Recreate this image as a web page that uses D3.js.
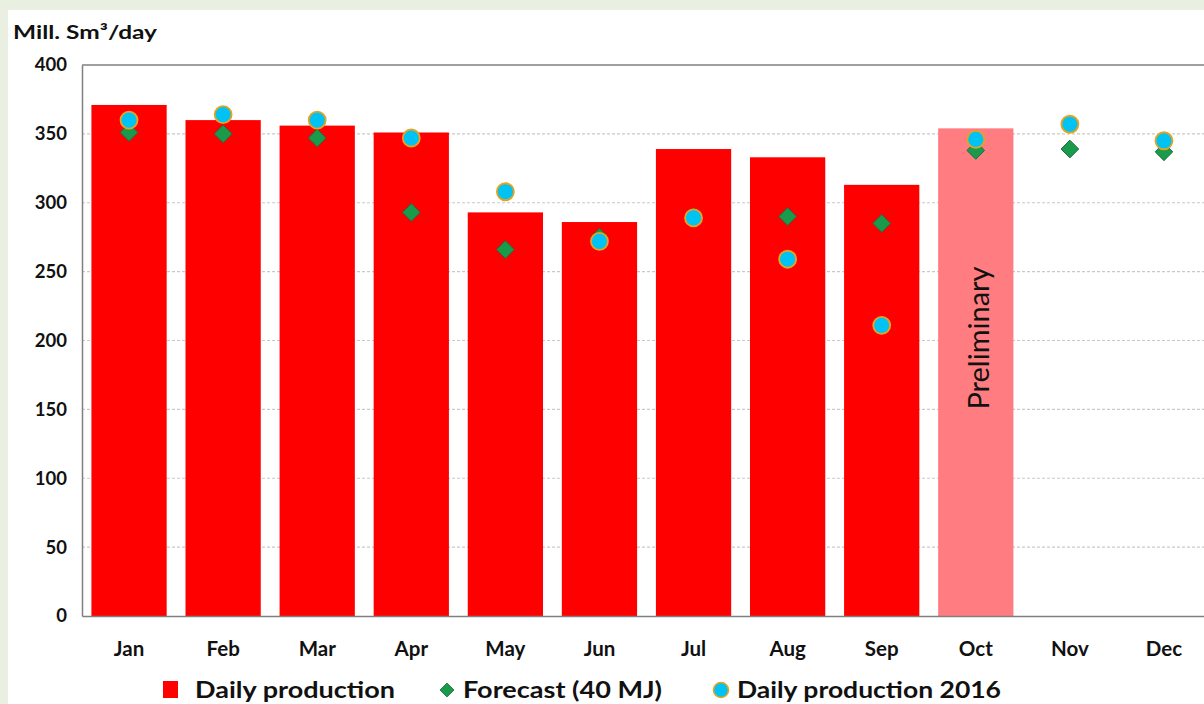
<!DOCTYPE html>
<html>
<head>
<meta charset="utf-8">
<script src="https://cdn.jsdelivr.net/npm/d3@7"></script>
<style>
  html, body { margin: 0; padding: 0; background: #e9f0e1; }
  svg { display: block; }
</style>
</head>
<body>
<script>
// Monthly gas production, million Sm3 per day
const months = ["Jan","Feb","Mar","Apr","May","Jun","Jul","Aug","Sep","Oct","Nov","Dec"];
const dailyProduction = [371, 360, 356, 351, 293, 286, 339, 333, 313, 354, null, null];
const forecast40MJ   = [351, 350, 347, 293, 266, 275, 290, 290, 285, 338, 339, 337];
const production2016 = [360, 364, 360, 347, 308, 272, 289, 259, 211, 346, 357, 345];
const preliminaryMonth = "Oct";
const yTicks = [0, 50, 100, 150, 200, 250, 300, 350, 400];

const W = 1204, H = 704;
const svg = d3.select("body").append("svg").attr("width", W).attr("height", H);

// white chart panel on the green page
svg.append("rect").attr("x", 8).attr("y", 10).attr("width", W - 8).attr("height", H - 10).attr("fill", "#ffffff");

const plotL = 82, plotT = 65, plotB = 616, plotR = 1211;
const x = d3.scaleBand().domain(months).range([plotL, plotR]).paddingInner(0.2).paddingOuter(0.1);
const y = d3.scaleLinear().domain([0, 400]).range([plotB, plotT]);

const font = "Lato, 'Open Sans', sans-serif";

// gridlines
svg.append("g").selectAll("line").data(yTicks.filter(t => t > 0 && t < 400)).join("line")
  .attr("x1", plotL).attr("x2", plotR).attr("y1", d => y(d)).attr("y2", d => y(d))
  .attr("stroke", "#c9c9c9").attr("stroke-width", 1.2).attr("stroke-dasharray", "3,2");

// top frame line
svg.append("line").attr("x1", plotL).attr("x2", plotR).attr("y1", plotT).attr("y2", plotT)
  .attr("stroke", "#7f7f7f").attr("stroke-width", 1.5);

// bars
const barData = months.map((m, i) => ({ m, v: dailyProduction[i] })).filter(d => d.v != null);
svg.append("g").selectAll("rect").data(barData).join("rect")
  .attr("x", d => x(d.m)).attr("width", x.bandwidth())
  .attr("y", d => y(d.v)).attr("height", d => y(0) - y(d.v))
  .attr("fill", d => d.m === preliminaryMonth ? "#ff7c80" : "#ff0000");

// preliminary label
svg.append("text")
  .attr("transform", `translate(${x(preliminaryMonth) + x.bandwidth() / 2 + 13},338) rotate(-90)`)
  .attr("text-anchor", "middle").attr("font-family", font).attr("font-size", 29)
  .attr("fill", "#111").text("Preliminary");

// axes
const yAxis = d3.axisLeft(y).tickValues(yTicks).tickSize(0).tickPadding(15);
const gy = svg.append("g").attr("transform", `translate(${plotL},0)`).call(yAxis);
gy.select(".domain").attr("stroke", "#7f7f7f").attr("stroke-width", 1.5);
gy.selectAll("text").attr("font-family", font).attr("font-weight", "bold").attr("font-size", 18.5).attr("fill", "#111");

const xAxis = d3.axisBottom(x).tickSize(0).tickPadding(25);
const gx = svg.append("g").attr("transform", `translate(0,${plotB})`).call(xAxis);
gx.select(".domain").attr("stroke", "#7f7f7f").attr("stroke-width", 1.5);
gx.selectAll("text").attr("font-family", font).attr("font-weight", "bold").attr("font-size", 20.5).attr("fill", "#111");

// forecast diamonds
const diamond = d3.symbol().type(d3.symbolDiamond2).size(200);
svg.append("g").selectAll("path").data(months.map((m, i) => ({ m, v: forecast40MJ[i] }))).join("path")
  .attr("d", diamond)
  .attr("transform", d => `translate(${x(d.m) + x.bandwidth() / 2},${y(d.v)})`)
  .attr("fill", "#1a9b4b").attr("stroke", "#1f6d45").attr("stroke-width", 1);

// 2016 production circles
svg.append("g").selectAll("circle").data(months.map((m, i) => ({ m, v: production2016[i] }))).join("circle")
  .attr("cx", d => x(d.m) + x.bandwidth() / 2).attr("cy", d => y(d.v)).attr("r", 8.5)
  .attr("fill", "#00c3f3").attr("stroke", "#e6a321").attr("stroke-width", 1.8);

// unit label
svg.append("text").attr("x", 13).attr("y", 39).attr("font-family", font).attr("font-weight", "bold")
  .attr("font-size", 19.5).attr("fill", "#111")
  .attr("textLength", 144).attr("lengthAdjust", "spacingAndGlyphs").text("Mill. Sm³/day");

// legend
const lg = svg.append("g").attr("font-family", font).attr("font-weight", "bold").attr("font-size", 23).attr("fill", "#111");
lg.append("rect").attr("x", 163).attr("y", 681).attr("width", 15).attr("height", 17).attr("fill", "#ff0000");
lg.append("text").attr("x", 195).attr("y", 698).attr("textLength", 200).attr("lengthAdjust", "spacingAndGlyphs")
  .text("Daily production");
lg.append("path").attr("d", d3.symbol().type(d3.symbolDiamond2).size(120))
  .attr("transform", "translate(447,690)").attr("fill", "#1a9b4b").attr("stroke", "#1f6d45");
lg.append("text").attr("x", 463).attr("y", 698).attr("textLength", 199).attr("lengthAdjust", "spacingAndGlyphs")
  .text("Forecast (40 MJ)");
lg.append("circle").attr("cx", 721).attr("cy", 690).attr("r", 7.5)
  .attr("fill", "#00c3f3").attr("stroke", "#e6a321").attr("stroke-width", 1.6);
lg.append("text").attr("x", 737).attr("y", 698).attr("textLength", 264).attr("lengthAdjust", "spacingAndGlyphs")
  .text("Daily production 2016");
</script>
</body>
</html>
